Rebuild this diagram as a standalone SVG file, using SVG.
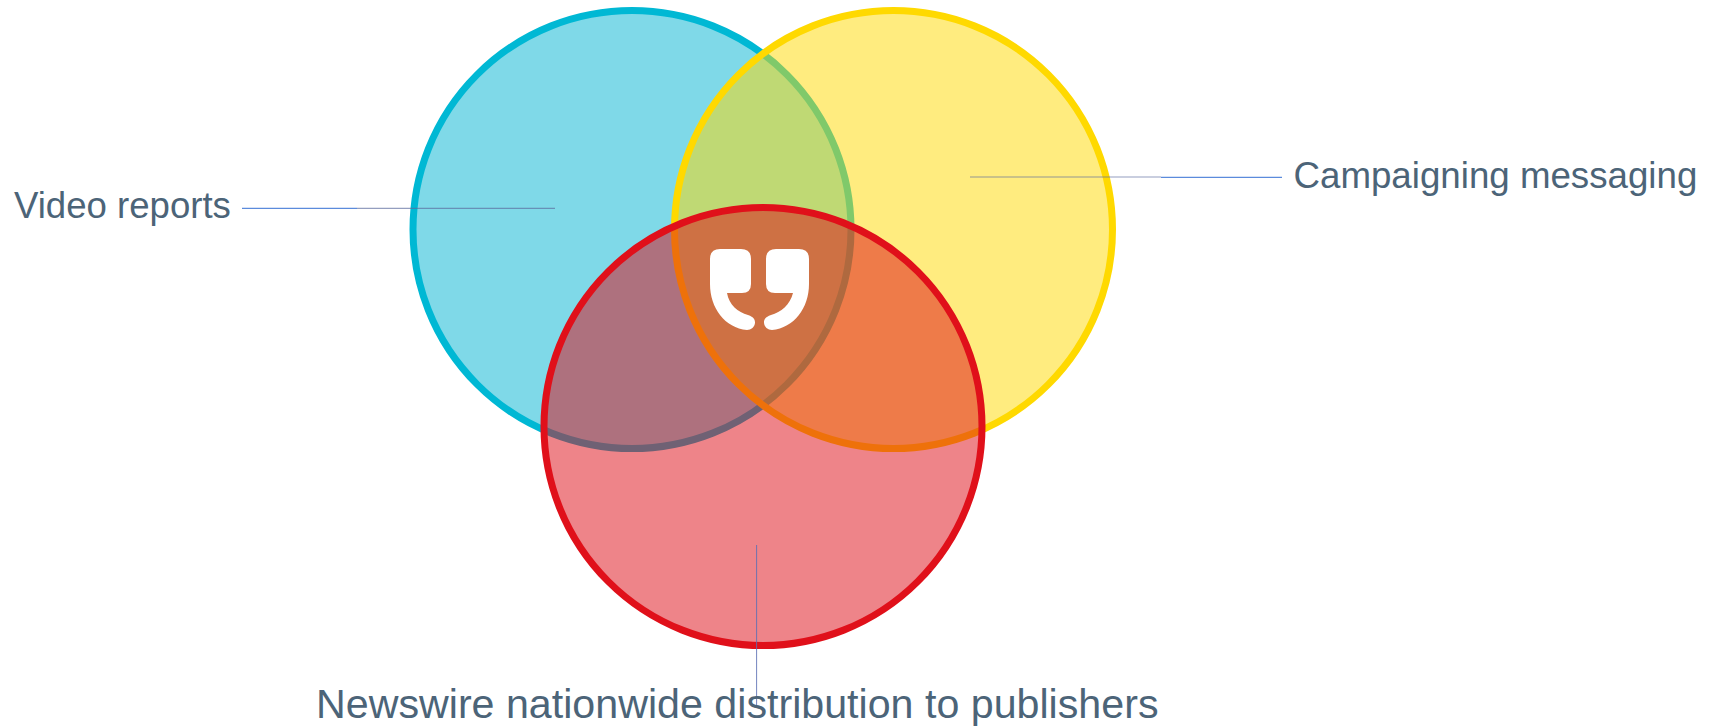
<svg xmlns="http://www.w3.org/2000/svg" width="1719" height="728" viewBox="0 0 1719 728">
<style>
.c{stroke-width:7;fill-opacity:.5}
.t{font-family:"Liberation Sans",Arial,sans-serif;fill:#4c6478}
.l{fill:none;stroke-width:1.2}
</style>
<rect width="1719" height="728" fill="#fff"/>
<g id="node-video"><circle class="c" cx="632" cy="229.5" r="219" fill="#00b4d2" stroke="#00b8d4"/></g>
<g id="node-campaigning"><circle class="c" cx="893.5" cy="229.500" r="219" fill="#ffd900" stroke="#ffd900"/></g>
<g id="node-newswire"><circle class="c" cx="763" cy="426.5" r="219" fill="#de0a14" stroke="#e0101a"/></g>
<g id="connectors">
<path class="l" stroke="#5b8bdc" d="M242 208.3H357"/>
<path class="l" stroke="#5a6a9c" stroke-opacity=".65" d="M357 208.3H555"/>
<path class="l" stroke="#5a6a9c" stroke-opacity=".65" d="M970 177H1161"/>
<path class="l" stroke="#5b8bdc" d="M1161 177.3H1282"/>
<path class="l" stroke="#5a6fb4" stroke-opacity=".85" style="stroke-width:1" d="M756.6 545V705"/>
</g>
<g id="node-icon" fill="#fff">
<path d="M720 249H741Q751 249 751 259V284Q751 293 742 293H727C729 305 738 312 748 315C754 317 755 320 755 322.500C755 327 751 330 747 330C725 328 710 308 710 284V259Q710 249 720 249Z"/>
<path d="M776 249H799Q809 249 809 259V284C809 308 794 328 772 330C768 330 764 327 764 322.500C764 320 765 317 771 315C781 312 790 305 793 293H775Q766 293 766 284V259Q766 249 776 249Z"/>
</g>
<g id="labels">
<text class="t" x="14" y="218" font-size="36.6">Video reports</text>
<text class="t" x="1293.500" y="188" font-size="36.7">Campaigning messaging</text>
<text class="t" x="316" y="718" font-size="41.2">Newswire nationwide distribution to publishers</text>
</g>
</svg>
